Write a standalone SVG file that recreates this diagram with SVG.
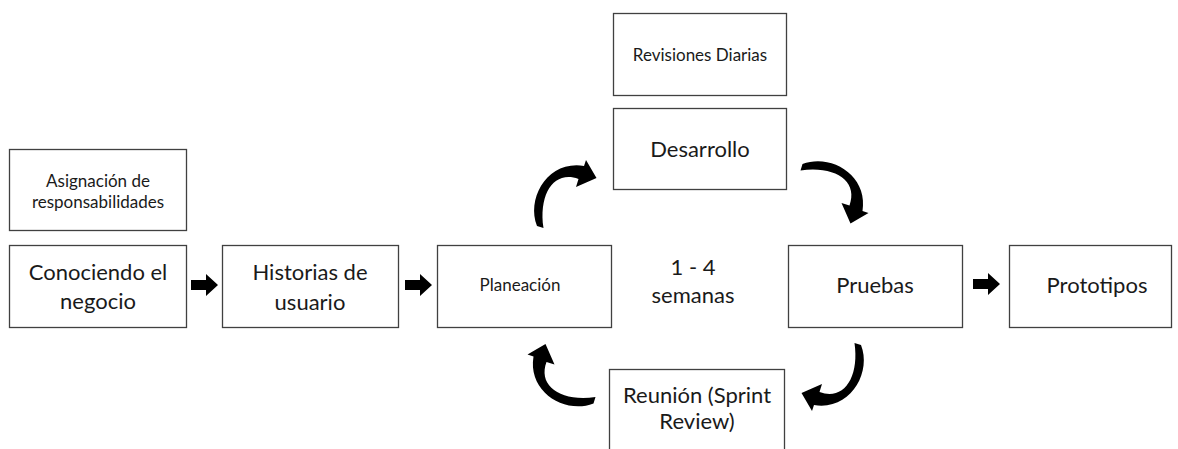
<svg xmlns="http://www.w3.org/2000/svg" width="1178" height="449" viewBox="0 0 1178 449">
<style>
.box{fill:#fff;stroke:#404040;stroke-width:1.3}
.t{font-family:Lato,"Open Sans","Noto Sans",sans-serif;fill:#1a1a1a;text-anchor:middle}
.s{font-size:17px}
.l{font-size:22px}
.arr{fill:#000}
</style>
<defs>
<path id="curve" d="M-27.5,31 C-38.5,3 -16.5,-35 19.5,-29 L21.5,-35 L32,-17 L11.5,-8 L14,-16 C-10,-25 -26,-2 -21,33 Z"/>
<path id="block" d="M0,-5 H15 V-11 L27,0 L15,11 V5 H0 Z"/>
</defs>
<rect width="1178" height="449" fill="#fff"/>
<g id="asignacion"><rect class="box" x="9.5" y="149.5" width="177" height="81"/><text class="t s" x="98" y="187">Asignación de</text><text class="t s" x="98" y="208">responsabilidades</text></g>
<g id="conociendo"><rect class="box" x="9.5" y="245.5" width="177" height="82"/><text class="t l" x="98" y="280">Conociendo el</text><text class="t l" x="98" y="309">negocio</text></g>
<g id="historias"><rect class="box" x="222.5" y="245.5" width="176" height="82"/><text class="t l" x="310" y="280">Historias de</text><text class="t l" x="310" y="310">usuario</text></g>
<g id="planeacion"><rect class="box" x="437.5" y="245.5" width="174" height="82"/><text class="t s" x="520" y="291">Planeación</text></g>
<g id="semanas"><text class="t l" x="693" y="275">1 - 4</text><text class="t l" x="693" y="303">semanas</text></g>
<g id="revisiones"><rect class="box" x="613.5" y="13.5" width="173" height="82"/><text class="t s" x="700" y="61">Revisiones Diarias</text></g>
<g id="desarrollo"><rect class="box" x="613.5" y="108.5" width="173" height="81"/><text class="t l" x="700" y="157">Desarrollo</text></g>
<g id="pruebas"><rect class="box" x="788.5" y="245.5" width="174" height="82"/><text class="t l" x="875" y="293">Pruebas</text></g>
<g id="prototipos"><rect class="box" x="1009.5" y="245.5" width="162" height="82"/><text class="t l" x="1097" y="293">Prototipos</text></g>
<g id="reunion"><rect class="box" x="609.5" y="369.5" width="175" height="90"/><text class="t l" x="697" y="403">Reunión (Sprint</text><text class="t l" x="697" y="429">Review)</text></g>
<g id="connectors" class="arr">
<use href="#block" x="191" y="285"/>
<use href="#block" x="405" y="285"/>
<use href="#block" x="973" y="284"/>
<use href="#curve" transform="translate(564.5,195)"/>
<use href="#curve" transform="translate(833.5,191.5) rotate(90)"/>
<use href="#curve" transform="translate(833.5,376) rotate(180)"/>
<use href="#curve" transform="translate(562.5,376) rotate(270)"/>
</g>
</svg>
